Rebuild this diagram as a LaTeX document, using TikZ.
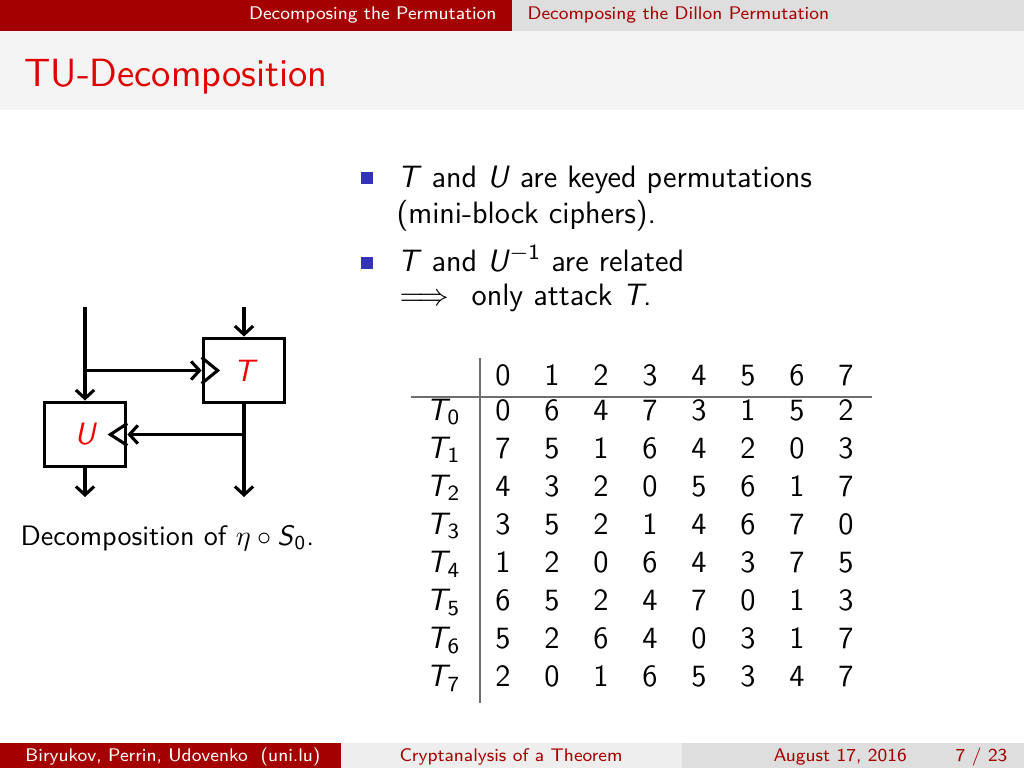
\documentclass[tikz,border=0pt]{standalone}
\usepackage{tikz}
\usetikzlibrary{arrows.meta}
\definecolor{cBar}{HTML}{A50000}
\definecolor{cTitle}{HTML}{DF0000}
\definecolor{cKey}{HTML}{F00000}
\definecolor{cGrayA}{HTML}{DEDEDE}
\definecolor{cGrayB}{HTML}{EEEEEE}
\definecolor{cGrayC}{HTML}{F4F4F4}
\definecolor{cBullet}{HTML}{3333B3}
\definecolor{cRule}{HTML}{6E6E6E}
\newcommand{\sub}[2]{\textit{#1}\kern-1pt\textsubscript{#2}}
\tikzset{
    x=0.125mm, y=-0.125mm, font=\sffamily\fontsize{11}{13.6}\selectfont,
    barlbl/.style={font=\sffamily\fontsize{6.5}{8}\selectfont, inner sep=0pt},
    titlelbl/.style={font=\sffamily\fontsize{14}{17}\selectfont, text=cTitle,
                     inner sep=0pt},
    txt/.style={inner sep=0pt, anchor=base west},
    capt/.style={font=\sffamily\fontsize{10}{12}\selectfont, inner sep=0pt,
                 anchor=base west},
    bullet/.style={fill=cBullet, minimum size=1.5mm, inner sep=0pt},
    box/.style={draw, line width=1.1pt, minimum width=10.2mm,
                minimum height=8.1mm, inner sep=0pt, text=cKey,
                font=\sffamily\itshape\fontsize{11}{13}\selectfont},
    wire/.style={-{Straight Barb[length=3pt,width=6.5pt]}, line width=1.1pt},
    keytri/.style={line width=1.1pt, line join=miter},
    cell/.style={inner sep=0pt, anchor=base},
    rule/.style={line width=0.8pt, cRule},
}

\begin{document}
\begin{tikzpicture}
    \useasboundingbox (0,0) rectangle (1024,768);
    \fill[white] (0,0) rectangle (1024,768);

    % headline and title band
    \fill[cBar] (0,0) rectangle (512,31);
    \fill[cGrayA] (512,0) rectangle (1024,31);
    \fill[cGrayC] (0,31) rectangle (1024,110);
    \node[barlbl, text=white, anchor=base east] (secL) at (497,19.5)
        {Decomposing the Permutation};
    \node[barlbl, text=cBar, anchor=base west] (secR) at (527,19.5)
        {Decomposing the Dillon Permutation};
    \node[titlelbl, anchor=base west] (title) at (24,87) {TU-Decomposition};

    % footline
    \fill[cBar] (0,743) rectangle (341,768);
    \fill[cGrayB] (341,743) rectangle (682,768);
    \fill[cGrayA] (682,743) rectangle (1024,768);
    \node[barlbl, text=white, anchor=base] (auth) at (173,761)
        {Biryukov, Perrin, Udovenko\ \ (uni.lu)};
    \node[barlbl, text=cBar, anchor=base] (talk) at (511,761)
        {Cryptanalysis of a Theorem};
    \node[barlbl, text=cBar, anchor=base west] (date) at (773,761)
        {August 17, 2016};
    \node[barlbl, text=cBar, anchor=base east] (page) at (1008,761) {7 / 23};

    % bullets
    \node[bullet] (b1) at (367,178) {};
    \node[txt] (l1) at (397,187)
        {\textit{T} and \textit{U} are keyed permutations};
    \node[txt] (l2) at (396,224) {(mini-block ciphers).};
    \node[bullet] (b2) at (367,263) {};
    \node[txt, text depth=0pt] (l3) at (397,271)
        {\textit{T} and \textit{U}\textsuperscript{$-$1} are related};
    \node[txt, text height=6pt] (l4) at (399,305)
        {$\Longrightarrow$\hspace{8pt}only attack \textit{T}.};

    % TU structure
    \node[box] (T) at (244,370.5) {T};
    \node[box] (U) at (85,434.5) {U};
    \coordinate (inU) at (85,307);
    \coordinate (inT) at (244,307);
    \coordinate (outU) at (85,497);
    \coordinate (outT) at (244,497);
    \coordinate (tapU) at (inU |- T.west);
    \coordinate (tapT) at (inT |- U.east);

    \draw[wire] (inU) -- (U.north);
    \draw[wire] (tapU) -- (T.west);
    \draw[wire] (inT) -- (T.north);
    \draw[wire] (T.south) -- (outT);
    \draw[wire] (tapT) -- (U.east);
    \draw[wire] (U.south) -- (outU);
    \draw[keytri] ([shift={(0,-13)}]T.west) -- ([shift={(16,0)}]T.west)
        -- ([shift={(0,13)}]T.west);
    \draw[keytri] ([shift={(0,-11)}]U.east) -- ([shift={(-17,0)}]U.east)
        -- ([shift={(0,11)}]U.east);

    \node[capt] (cap) at (20,545)
        {Decomposition of $\eta\circ\mbox{\textit{S}\textsubscript{0}}$.};

    % table of T_0 ... T_7
    \draw[rule] (480,358) -- (480,703);
    \draw[rule] (411,397) -- (872,397);
    \foreach \j in {0,...,7}
        \node[cell] (h\j) at (503+49*\j,385) {\j};
    \foreach \row [count=\i from 0] in {{0,6,4,7,3,1,5,2},{7,5,1,6,4,2,0,3},
            {4,3,2,0,5,6,1,7},{3,5,2,1,4,6,7,0},{1,2,0,6,4,3,7,5},
            {6,5,2,4,7,0,1,3},{5,2,6,4,0,3,1,7},{2,0,1,6,5,3,4,7}} {
        \node[cell, anchor=base east] (t\i) at (461,420+38.1*\i)
            {\sub{T}{\i}};
        \foreach \e [count=\j from 0] in \row
            \node[cell] (c\i\j) at (503+49*\j,420+38.1*\i) {\e};
    }
\end{tikzpicture}
\end{document}
